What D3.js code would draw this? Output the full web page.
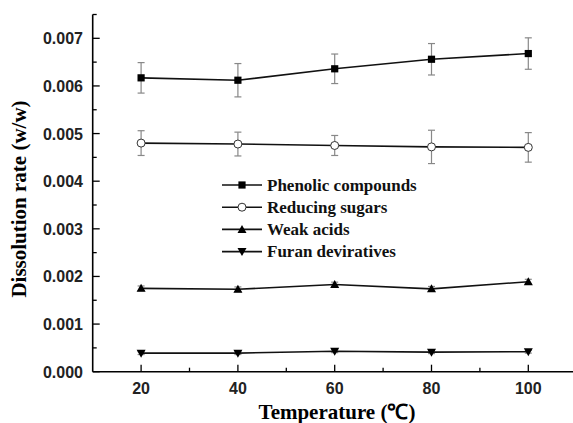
<!DOCTYPE html>
<html><head><meta charset="utf-8">
<script src="https://cdn.jsdelivr.net/npm/d3@7"></script>
<style>body{margin:0;background:#fff}</style>
</head><body>
<svg id="c" width="573" height="423"></svg>
<script>
const temps = [20, 40, 60, 80, 100];
const phenolic = [0.00617, 0.00612, 0.00636, 0.00656, 0.00668];
const phenolicErr = [0.00032, 0.00035, 0.00031, 0.00033, 0.00033];
const sugars = [0.00480, 0.00478, 0.00475, 0.00472, 0.00471];
const sugarsErr = [0.00026, 0.00025, 0.00021, 0.00035, 0.00031];
const acids = [0.00175, 0.00173, 0.00183, 0.00174, 0.00189];
const acidsErr = [0.00005, 0.00005, 0.00005, 0.00005, 0.00005];
const furans = [0.00039, 0.00039, 0.00043, 0.00041, 0.00042];
const furansErr = [0.00003, 0.00003, 0.00003, 0.00003, 0.00003];
const seriesNames = ["Phenolic compounds", "Reducing sugars", "Weak acids", "Furan deviratives"];
const xTicks = [20, 40, 60, 80, 100];
const yTicks = [0, 0.001, 0.002, 0.003, 0.004, 0.005, 0.006, 0.007];

const series = [
  {name: seriesNames[0], v: phenolic, e: phenolicErr, sym: "square"},
  {name: seriesNames[1], v: sugars, e: sugarsErr, sym: "circle"},
  {name: seriesNames[2], v: acids, e: acidsErr, sym: "up"},
  {name: seriesNames[3], v: furans, e: furansErr, sym: "down"}
];

const svg = d3.select("#c");
const x = d3.scaleLinear().domain([10, 110]).range([92.7, 576.7]);
const y = d3.scaleLinear().domain([0, 0.0075]).range([371.7, 14.5]);

// axes
const g = svg.append("g");
g.append("line").attr("x1", x(10)).attr("x2", 573).attr("y1", y(0)).attr("y2", y(0)).attr("stroke", "#000").attr("stroke-width", 1.6);
g.append("line").attr("x1", x(10)).attr("x2", x(10)).attr("y1", y(0)).attr("y2", y(0.0075)).attr("stroke", "#000").attr("stroke-width", 1.6);

// x ticks
const xMinor = d3.range(30, 110, 20);
xTicks.forEach(t => g.append("line").attr("x1", x(t)).attr("x2", x(t)).attr("y1", y(0)).attr("y2", y(0) - 7).attr("stroke", "#000").attr("stroke-width", 1.3));
xMinor.forEach(t => g.append("line").attr("x1", x(t)).attr("x2", x(t)).attr("y1", y(0)).attr("y2", y(0) - 4).attr("stroke", "#000").attr("stroke-width", 1.3));
g.selectAll(".xl").data(xTicks).enter().append("text")
  .attr("x", d => x(d)).attr("y", 394).attr("text-anchor", "middle")
  .attr("font-family", "Liberation Sans, Arial, sans-serif").attr("font-weight", "bold").attr("font-size", 16)
  .attr("fill", "#222").text(d => d);

// y ticks
const yMinor = d3.range(0.0005, 0.0076, 0.001);
yTicks.forEach(t => g.append("line").attr("x1", x(10)).attr("x2", x(10) + 7).attr("y1", y(t)).attr("y2", y(t)).attr("stroke", "#000").attr("stroke-width", 1.3));
yMinor.forEach(t => g.append("line").attr("x1", x(10)).attr("x2", x(10) + 4).attr("y1", y(t)).attr("y2", y(t)).attr("stroke", "#000").attr("stroke-width", 1.3));
g.selectAll(".yl").data(yTicks).enter().append("text")
  .attr("x", 83).attr("y", d => y(d) + 6).attr("text-anchor", "end")
  .attr("font-family", "Liberation Sans, Arial, sans-serif").attr("font-weight", "bold").attr("font-size", 16)
  .attr("fill", "#222").text(d => d3.format(".3f")(d));

// axis titles
svg.append("text").attr("x", 337).attr("y", 419).attr("text-anchor", "middle")
  .attr("font-family", "Liberation Serif, Times New Roman, serif").attr("font-weight", "bold").attr("font-size", 21)
  .text("Temperature (℃)");
svg.append("text").attr("transform", "translate(26,199) rotate(-90)").attr("text-anchor", "middle")
  .attr("font-family", "Liberation Serif, Times New Roman, serif").attr("font-weight", "bold").attr("font-size", 21)
  .text("Dissolution rate (w/w)");

function marker(sel, sym, cx, cy) {
  if (sym === "square") sel.append("rect").attr("x", cx - 3.6).attr("y", cy - 3.6).attr("width", 7.2).attr("height", 7.2).attr("fill", "#000");
  else if (sym === "circle") sel.append("circle").attr("cx", cx).attr("cy", cy).attr("r", 4).attr("fill", "#fff").attr("stroke", "#333").attr("stroke-width", 1);
  else if (sym === "up") sel.append("path").attr("d", `M${cx},${cy-4.5}L${cx+4.5},${cy+3.5}L${cx-4.5},${cy+3.5}Z`).attr("fill", "#000");
  else sel.append("path").attr("d", `M${cx},${cy+4.5}L${cx+4.5},${cy-3.5}L${cx-4.5},${cy-3.5}Z`).attr("fill", "#000");
}

const line = d3.line().x(d => x(d[0])).y(d => y(d[1]));
series.forEach(s => {
  const pts = temps.map((t, i) => [t, s.v[i], s.e[i]]);
  const sg = svg.append("g");
  // error bars
  pts.forEach(p => {
    const c = "#888";
    sg.append("line").attr("x1", x(p[0])).attr("x2", x(p[0])).attr("y1", y(p[1] + p[2])).attr("y2", y(p[1] - p[2])).attr("stroke", c).attr("stroke-width", 1.2);
    [p[1] + p[2], p[1] - p[2]].forEach(v => sg.append("line").attr("x1", x(p[0]) - 3.5).attr("x2", x(p[0]) + 3.5).attr("y1", y(v)).attr("y2", y(v)).attr("stroke", c).attr("stroke-width", 1.2));
  });
  sg.append("path").datum(pts).attr("d", line).attr("fill", "none").attr("stroke", "#111").attr("stroke-width", 1.6);
  pts.forEach(p => marker(sg, s.sym, x(p[0]), y(p[1])));
});

// legend
const lg = svg.append("g");
series.forEach((s, i) => {
  const yy = 185 + i * 22.2;
  lg.append("line").attr("x1", 222).attr("x2", 262).attr("y1", yy).attr("y2", yy).attr("stroke", "#111").attr("stroke-width", 1.6);
  marker(lg, s.sym, 242, yy);
  lg.append("text").attr("x", 267).attr("y", yy + 5.5).attr("font-family", "Liberation Serif, Times New Roman, serif")
    .attr("font-weight", "bold").attr("font-size", 17).attr("fill", "#111").text(s.name);
});
</script>
</body></html>
